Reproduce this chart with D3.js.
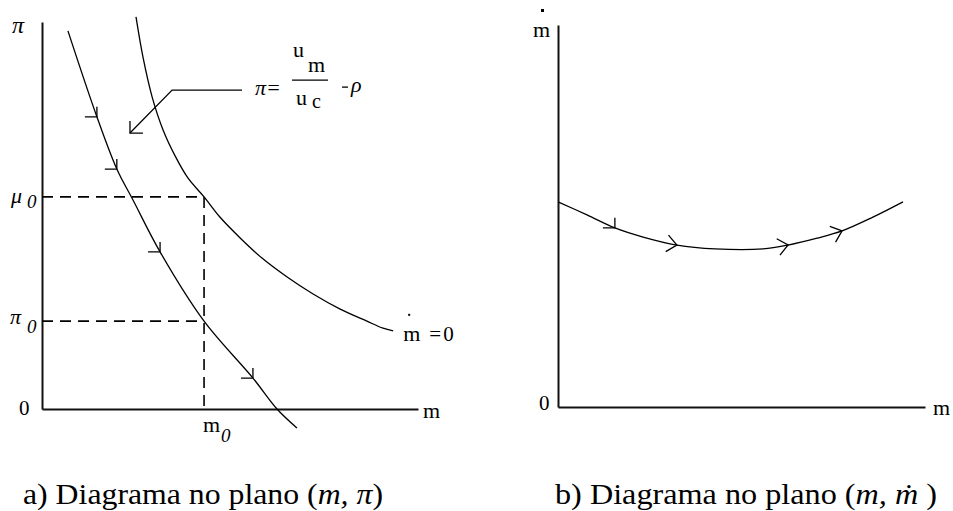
<!DOCTYPE html>
<html>
<head>
<meta charset="utf-8">
<script src="https://cdn.jsdelivr.net/npm/d3@7"></script>
<style>
  html, body { margin: 0; padding: 0; background: #fff; }
  svg { display: block; }
</style>
</head>
<body>
<script>
// ---------------- DATA ----------------
// Left panel (m, pi): trajectory curve (values in chart units)
const trajM  = [6.9, 14.6, 19.9, 24.2, 31.4, 43.1, 56.1, 62.5, 67.8];
const trajPi = [97.7, 75.5, 62.0, 54.0, 40.6, 22.7, 8.0, 0.0, -4.9];
// Left panel: isocline  m-dot = 0
const isoM  = [25.0, 26.9, 29.3, 32.2, 35.4, 38.8, 43.1, 47.3, 52.7, 58.5, 65.2, 72.1, 79.3, 86.4, 90.7, 93.4];
const isoPi = [101.3, 90.7, 80.6, 72.1, 65.4, 59.7, 54.8, 49.6, 44.2, 39.0, 34.1, 29.7, 25.8, 22.7, 20.9, 20.2];
// Direction marks on the trajectory (m positions)
const trajArrowM = [14.6, 19.9, 31.4, 56.1];
// Reference point
const m0 = 43.1, pi0 = 22.7, mu0 = 54.8;
// Annotation arrow pointing to the trajectory (chart units)
const noteM  = [53.2, 34.6, 23.4];
const notePi = [82.4, 82.4, 71.3];

// Right panel (m, m-dot)
const rightM    = [0, 7.9, 15.5, 23.2, 32.4, 42.8, 55.9, 62.7, 70.6, 77.4, 85.8, 94.0];
const rightMdot = [53.7, 50.3, 46.9, 44.5, 42.4, 41.4, 41.4, 42.4, 44.2, 46.1, 49.7, 53.7];
const rightHalfArrowM = [15.5];
const rightChevronM   = [32.4, 62.7, 77.4];

// Labels
const captionA = ["a) Diagrama no plano (", "m,", "  ", "\u03c0", ")"];
const captionB = ["b) Diagrama no plano (", "m,", "  ", "m\u0307", " )"];

// ---------------- DRAW ----------------
const W = 953, H = 511;
const SERIF = '"Liberation Serif", "Times New Roman", Tinos, serif';
const svg = d3.select("body").append("svg").attr("width", W).attr("height", H)
  .style("font-family", SERIF);

const xL = d3.scaleLinear([0, 100], [42, 418]);
const yL = d3.scaleLinear([0, 100], [409, 22]);
const xR = d3.scaleLinear([0, 100], [558, 925]);
const yR = d3.scaleLinear([0, 100], [407, 25]);

function axes(g, xs, ys) {
  g.append("g").attr("transform", `translate(0,${ys(0)})`)
    .call(d3.axisBottom(xs).tickValues([]).tickSizeOuter(0))
    .call(s => s.select(".domain").attr("stroke", "#111").attr("stroke-width", 2));
  g.append("g").attr("transform", `translate(${xs(0)},0)`)
    .call(d3.axisLeft(ys).tickValues([]).tickSizeOuter(0))
    .call(s => s.select(".domain").attr("stroke", "#111").attr("stroke-width", 2));
}

function pointAtX(node, px) {
  const total = node.getTotalLength();
  let lo = 0, hi = total;
  for (let i = 0; i < 40; i++) {
    const mid = (lo + hi) / 2;
    if (node.getPointAtLength(mid).x < px) lo = mid; else hi = mid;
  }
  const l = (lo + hi) / 2;
  const p = node.getPointAtLength(l);
  const a = node.getPointAtLength(Math.max(0, l - 2));
  const b = node.getPointAtLength(Math.min(total, l + 2));
  const dx = b.x - a.x, dy = b.y - a.y, n = Math.hypot(dx, dy) || 1;
  return { x: p.x, y: p.y, ux: dx / n, uy: dy / n };
}

function halfArrow(g, p) {
  g.append("path")
    .attr("d", `M${p.x - 12},${p.y}L${p.x},${p.y}L${p.x},${p.y - 10}`)
    .attr("fill", "none").attr("stroke", "#000").attr("stroke-width", 1.3);
}
function chevron(g, p) {
  const L = 13, ang = 40 * Math.PI / 180;
  const w = s => {
    const c = Math.cos(s * ang), si = Math.sin(s * ang);
    const rx = p.ux * c - p.uy * si, ry = p.ux * si + p.uy * c;
    return [p.x - L * rx, p.y - L * ry];
  };
  const [ax, ay] = w(1), [bx, by] = w(-1);
  g.append("path")
    .attr("d", `M${ax},${ay}L${p.x},${p.y}L${bx},${by}`)
    .attr("fill", "none").attr("stroke", "#000").attr("stroke-width", 1.3);
}
function txt(g, x, y, s, size, italic) {
  return g.append("text").attr("x", x).attr("y", y)
    .attr("font-family", SERIF)
    .style("font-family", SERIF).style("font-size", size + "px")
    .style("font-style", italic ? "italic" : "normal").attr("fill", "#000").text(s);
}

// ===== Left panel =====
const gL = svg.append("g");
axes(gL, xL, yL);

// dashed guides
const dash = "11,7";
gL.append("line").attr("x1", xL(0)).attr("x2", xL(m0)).attr("y1", yL(mu0)).attr("y2", yL(mu0))
  .attr("stroke", "#000").attr("stroke-width", 1.6).attr("stroke-dasharray", dash);
gL.append("line").attr("x1", xL(0)).attr("x2", xL(m0)).attr("y1", yL(pi0)).attr("y2", yL(pi0))
  .attr("stroke", "#000").attr("stroke-width", 1.6).attr("stroke-dasharray", dash);
gL.append("line").attr("x1", xL(m0)).attr("x2", xL(m0)).attr("y1", yL(mu0)).attr("y2", yL(0))
  .attr("stroke", "#000").attr("stroke-width", 1.6).attr("stroke-dasharray", dash);

const lineL = d3.line().x(d => xL(d[0])).y(d => yL(d[1])).curve(d3.curveCatmullRom.alpha(0.5));
const trajPath = gL.append("path").attr("d", lineL(d3.zip(trajM, trajPi)))
  .attr("fill", "none").attr("stroke", "#000").attr("stroke-width", 1.3);
gL.append("path").attr("d", lineL(d3.zip(isoM, isoPi)))
  .attr("fill", "none").attr("stroke", "#000").attr("stroke-width", 1.3);

trajArrowM.forEach(m => halfArrow(gL, pointAtX(trajPath.node(), xL(m))));

// annotation arrow
const notePts = d3.zip(noteM, notePi).map(d => [xL(d[0]), yL(d[1])]);
gL.append("path").attr("d", d3.line()(notePts))
  .attr("fill", "none").attr("stroke", "#000").attr("stroke-width", 1.3);
const tip = notePts[2];
gL.append("path").attr("d", `M${tip[0] + 13},${tip[1]}L${tip[0]},${tip[1]}L${tip[0]},${tip[1] - 12}`)
  .attr("fill", "none").attr("stroke", "#000").attr("stroke-width", 1.3);

// formula  pi = u_m / u_c - rho
const fx = notePts[0][0], fy = notePts[0][1];
txt(gL, fx + 13, fy + 5, "\u03c0=", 22, true);
txt(gL, fx + 51, fy - 33, "u", 22, false);
txt(gL, fx + 66, fy - 18, "m", 22, false);
gL.append("line").attr("x1", fx + 50).attr("x2", fx + 86).attr("y1", fy - 10).attr("y2", fy - 10)
  .attr("stroke", "#000").attr("stroke-width", 1.3);
txt(gL, fx + 54, fy + 15, "u", 22, false);
txt(gL, fx + 70, fy + 18, "c", 20, false);
gL.append("line").attr("x1", fx + 100).attr("x2", fx + 106).attr("y1", fy - 3).attr("y2", fy - 3)
  .attr("stroke", "#000").attr("stroke-width", 1.3);
txt(gL, fx + 109, fy + 2, "\u03c1", 22, true);

// axis labels
txt(gL, 12, yL(100) + 11, "\u03c0", 24, true);
txt(gL, 11, yL(mu0) + 6, "\u03bc", 22, true);
txt(gL, 27, yL(mu0) + 11, "0", 19, true);
txt(gL, 10, yL(pi0) + 3, "\u03c0", 22, true);
txt(gL, 27, yL(pi0) + 12, "0", 19, true);
txt(gL, 19, yL(0) + 6, "0", 21, false);
txt(gL, xL(100) + 5, yL(0) + 9, "m", 22, false);
txt(gL, xL(m0) - 1, yL(0) + 23, "m", 22, false);
txt(gL, xL(m0) + 17, yL(0) + 33, "0", 19, true);
// m-dot = 0 label at end of isocline
const isoEnd = [xL(isoM[isoM.length - 1]), yL(isoPi[isoPi.length - 1])];
txt(gL, isoEnd[0] + 10, isoEnd[1] + 10, "m", 22, false);
gL.append("rect").attr("x", isoEnd[0] + 15).attr("y", isoEnd[1] - 17).attr("width", 2).attr("height", 2).attr("fill", "#000");
txt(gL, isoEnd[0] + 36, isoEnd[1] + 10, "=", 21, false);
txt(gL, isoEnd[0] + 50, isoEnd[1] + 10, "0", 21, false);

// ===== Right panel =====
const gR = svg.append("g");
axes(gR, xR, yR);
const lineR = d3.line().x(d => xR(d[0])).y(d => yR(d[1])).curve(d3.curveCatmullRom.alpha(0.5));
const rPath = gR.append("path").attr("d", lineR(d3.zip(rightM, rightMdot)))
  .attr("fill", "none").attr("stroke", "#000").attr("stroke-width", 1.3);
rightHalfArrowM.forEach(m => halfArrow(gR, pointAtX(rPath.node(), xR(m))));
rightChevronM.forEach(m => chevron(gR, pointAtX(rPath.node(), xR(m))));

txt(gR, xR(0) - 25, yR(100) + 12, "m", 22, false);
gR.append("rect").attr("x", xR(0) - 17).attr("y", 9).attr("width", 3).attr("height", 3).attr("fill", "#000");
txt(gR, xR(0) - 19, yR(0) + 3, "0", 21, false);
txt(gR, xR(100) + 8, yR(0) + 8, "m", 22, false);

// ===== Captions =====
function caption(parts, x, len) {
  const t = svg.append("text").attr("x", x).attr("y", 504)
    .attr("font-family", SERIF)
    .style("font-family", SERIF).style("font-size", "29px").attr("fill", "#000")
    .attr("textLength", len).attr("lengthAdjust", "spacingAndGlyphs");
  parts.forEach((p, i) => {
    t.append("tspan").style("font-style", (i === 1 || i === 3) ? "italic" : "normal").text(p);
  });
}
caption(captionA, 23, 360);
caption(captionB, 555, 382);
</script>
</body>
</html>
